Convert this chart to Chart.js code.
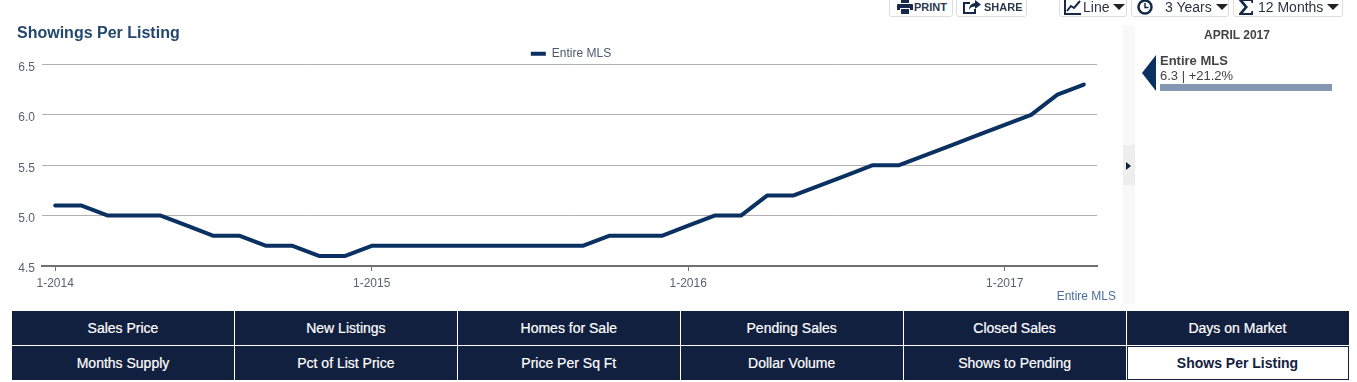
<!DOCTYPE html>
<html>
<head>
<meta charset="utf-8">
<script src="https://cdn.jsdelivr.net/npm/chart.js@4/dist/chart.umd.min.js"></script>
<style>
  html, body { margin: 0; padding: 0; background: #fff; overflow: hidden; }
  body { width: 1357px; height: 382px; position: relative; font-family: "Liberation Sans", Arial, sans-serif; }
  #chart1 { position: absolute; left: 0; top: 0; }
  .abs { position: absolute; white-space: nowrap; }
  .btn { position: absolute; top: -6px; height: 23px; box-sizing: border-box; border: 1px solid #ddd; border-radius: 3px; background: #fff; color: #333; display: flex; align-items: center; padding-top: 3px; }
  .btn svg { display: block; flex: none; }
  .small { font-size: 11px; font-weight: bold; color: #2b3a4e; }
  .big { font-size: 14px; color: #2b3340; }
  .caret { width: 0; height: 0; border-left: 6px solid transparent; border-right: 6px solid transparent; border-top: 6px solid #222; flex: none; }
  .nav { position: absolute; box-sizing: border-box; background: #12203f; color: #fff; font-size: 14px; text-align: center; line-height: 34px; height: 34px; width: 222px; -webkit-text-stroke: 0.2px #fff; }
  .nav.on { background: #fff; color: #12203f; border: 1px solid #12203f; line-height: 32px; font-weight: bold; -webkit-text-stroke: 0; }
</style>
</head>
<body>
<div class="abs" style="left:1123px;top:25px;width:12px;height:279px;background:#f8f8f8"></div>
<div class="abs" style="left:1123px;top:145px;width:12px;height:40px;background:#eeeeee"></div>
<div class="abs" style="left:1126px;top:162px;width:0;height:0;border-top:4px solid transparent;border-bottom:4px solid transparent;border-left:5px solid #12203f"></div>

<canvas id="chart1" width="1143" height="304"></canvas>

<div class="btn small" style="left:889px;width:64px"><svg width="16" height="14" viewBox="0 0 16 14" style="margin:0 1px 0 7px"><path fill="#16294a" d="M4 0h8v3H4zM1 4h14a1 1 0 0 1 1 1v5h-3V8H3v2H0V5a1 1 0 0 1 1-1zM4 9h8v5H4z"/></svg>PRINT</div>
<div class="btn small" style="left:956px;width:71px"><svg width="18" height="14" viewBox="0 0 18 14" style="margin:0 3px 0 6px"><path fill="none" stroke="#16294a" stroke-width="2" d="M7 3H1v10h11V9"/><path fill="#16294a" d="M12 0l6 4.500-6 4.500V6.500C9 6.500 7 7.500 6 10c0-4 2-6.500 6-7z"/></svg>SHARE</div>
<div class="btn big" style="left:1059px;width:68px"><svg width="17" height="16" viewBox="0 0 17 16" style="margin:0 2px 0 4px"><path fill="none" stroke="#16294a" stroke-width="2" d="M1 0v15h16M3 12l4-5 3 2 6-7"/></svg>Line<span class="caret" style="margin-left:4px"></span></div>
<div class="btn big" style="left:1131px;width:98px"><svg width="16" height="16" viewBox="0 0 16 16" style="margin:0 12px 0 5px"><circle cx="8" cy="8" r="6.500" fill="none" stroke="#16294a" stroke-width="2.500"/><path fill="none" stroke="#16294a" stroke-width="1.500" d="M8 4v4.500h3.500"/></svg>3 Years<span class="caret" style="margin-left:4px"></span></div>
<div class="btn big" style="left:1233px;width:110px"><svg width="16" height="16" viewBox="0 0 16 16" style="margin:0 4px 0 4px"><path fill="#16294a" d="M1 0h14v4h-1.500L13 2H5l5 6-5 6h8l.5-2H15v4H1v-1.500L6.500 8 1 1.500z"/></svg>12 Months<span class="caret" style="margin-left:4px"></span></div>

<div class="abs" style="left:1136px;width:202px;top:28px;text-align:center;font-size:12px;font-weight:bold;color:#444">APRIL 2017</div>
<div class="abs" style="left:1142px;top:55px;width:0;height:0;border-top:18.500px solid transparent;border-bottom:18.500px solid transparent;border-right:14px solid #0a3161"></div>
<div class="abs" style="left:1160px;top:53px;font-size:13px;font-weight:bold;color:#444">Entire MLS</div>
<div class="abs" style="left:1160px;top:68px;font-size:13px;color:#444">6.3 | +21.2%</div>
<div class="abs" style="left:1160px;top:84px;width:172px;height:7px;background:#8496b2"></div>
<div class="abs" style="right:241px;top:289px;font-size:12px;color:#4a6d9c">Entire MLS</div>

<div id="nav"></div>

<script>
const months = [
  '1-2014','2-2014','3-2014','4-2014','5-2014','6-2014','7-2014','8-2014','9-2014','10-2014','11-2014','12-2014',
  '1-2015','2-2015','3-2015','4-2015','5-2015','6-2015','7-2015','8-2015','9-2015','10-2015','11-2015','12-2015',
  '1-2016','2-2016','3-2016','4-2016','5-2016','6-2016','7-2016','8-2016','9-2016','10-2016','11-2016','12-2016',
  '1-2017','2-2017','3-2017','4-2017'
]
const entireMls = [
  5.1,5.1,5.0,5.0,5.0,4.9,4.8,4.8,4.7,4.7,4.6,4.6,
  4.7,4.7,4.7,4.7,4.7,4.7,4.7,4.7,4.7,4.8,4.8,4.8,
  4.9,5.0,5.0,5.2,5.2,5.3,5.4,5.5,5.5,5.6,5.7,5.8,
  5.9,6.0,6.2,6.3
]
const yearTicks = ['1-2014','1-2015','1-2016','1-2017']
const navLabels = [
  ['Sales Price','New Listings','Homes for Sale','Pending Sales','Closed Sales','Days on Market'],
  ['Months Supply','Pct of List Price','Price Per Sq Ft','Dollar Volume','Shows to Pending','Shows Per Listing']
]

// bottom menu
let nav = document.getElementById('nav')
navLabels.forEach((row, r) => {
  row.forEach((text, c) => {
    let d = document.createElement('div')
    d.className = 'nav' + (text === 'Shows Per Listing' ? ' on' : '')
    d.style.left = (12 + c * 222.9) + 'px'
    d.style.top = (311 + r * 35) + 'px'
    d.textContent = text
    nav.appendChild(d)
  })
})

// legend sits a bit right of and below where the layout puts it
const nudgeLegend = {
  id: 'nudgeLegend',
  afterLayout(chart) {
    let l = chart.legend
    l.left += 14
    l.right += 14
    l.top += 5.4
    l.bottom += 5.4
  },
}

// =========================== chart =================
let chartEle1 = document.getElementById('chart1').getContext('2d')

let chart1 = new Chart(chartEle1, {
  type: 'line',
  plugins: [nudgeLegend],
  data: {
    labels: months,
    datasets: [
      {
        label: 'Entire MLS',
        data: entireMls,
        borderColor: '#0a3161',
        backgroundColor: '#0a3161',
        borderWidth: 4,
        pointRadius: 0,
        tension: 0,
        borderCapStyle: 'round',
        borderJoinStyle: 'round',
        clip: false,
      },
    ],
  },
  options: {
    responsive: false,
    animation: false,
    layout: { padding: { left: 17, right: 46, top: 0, bottom: 0 } },
    plugins: {
      tooltip: { enabled: false },
      title: {
        display: true,
        text: 'Showings Per Listing',
        align: 'start',
        color: '#24476f',
        font: { family: '"Liberation Sans"', size: 16, weight: 'bold', lineHeight: 1 },
        padding: { top: 26, bottom: 0 },
      },
      legend: {
        display: true,
        position: 'top',
        labels: {
          boxWidth: 15,
          boxHeight: 4,
          color: '#4a5a70',
          font: { family: '"Liberation Sans"', size: 12 },
          padding: 0.4,
          generateLabels: (chart) =>
            Chart.defaults.plugins.legend.labels.generateLabels(chart).map((l) => ({ ...l, lineWidth: 0 })),
        },
      },
    },
    scales: {
      x: {
        type: 'category',
        offset: true,
        afterBuildTicks: (scale) => {
          scale.ticks = scale.ticks.filter((t) => yearTicks.includes(months[t.value]))
        },
        afterFit: (scale) => { scale.height = 38 },
        grid: { display: true, drawOnChartArea: false, offset: false, tickLength: 5, tickColor: '#707070' },
        border: { display: true, color: '#707070', width: 2 },
        ticks: {
          autoSkip: false,
          maxRotation: 0,
          color: '#5a6270',
          font: { family: '"Liberation Sans"', size: 12 },
          padding: 5,
        },
      },
      y: {
        min: 4.5,
        max: 6.5,
        afterFit: (scale) => { scale.width = 25 },
        grid: { color: '#b0b0b0', lineWidth: 1, drawTicks: false },
        border: { display: false },
        ticks: {
          stepSize: 0.5,
          color: '#5a6270',
          font: { family: '"Liberation Sans"', size: 12 },
          padding: 7,
          labelOffset: 3,
          callback: (v) => v.toFixed(1),
        },
      },
    },
  },
})
</script>
</body>
</html>
